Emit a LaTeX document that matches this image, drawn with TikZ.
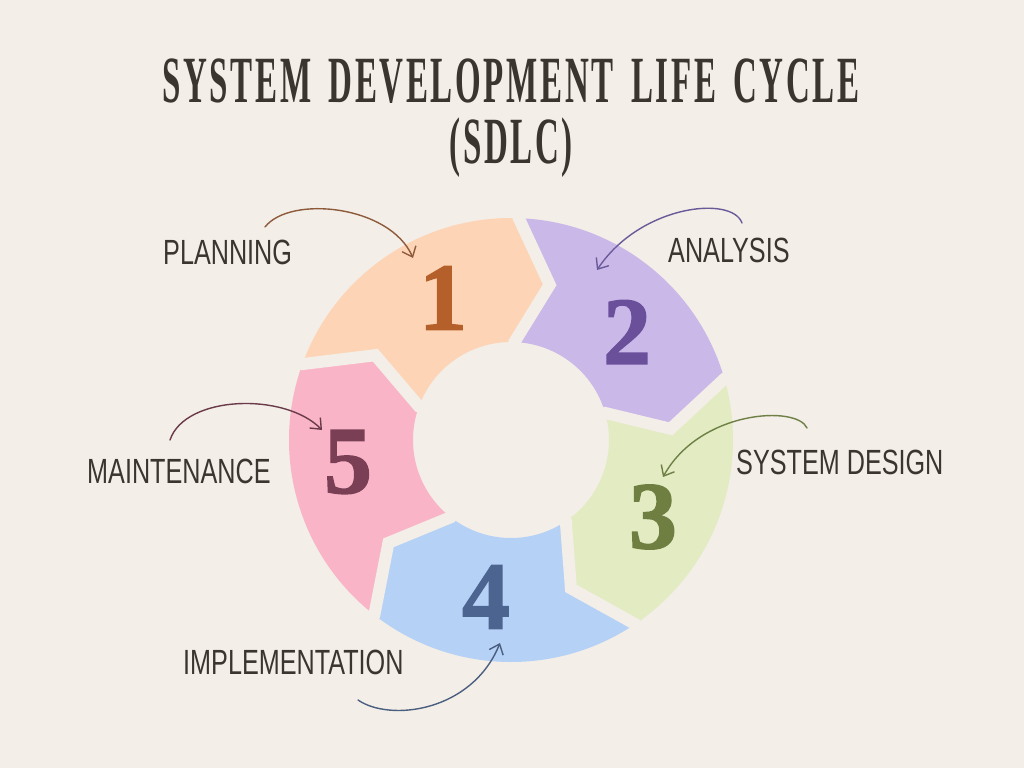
\documentclass[tikz,border=0pt]{standalone}
\usepackage{fontspec}
\setmainfont{Liberation Serif}
\newfontfamily\titlefont[FakeStretch=0.5, LetterSpace=4, WordSpace=1.6]{Liberation Serif}
\newfontfamily\labelfont[FakeStretch=0.72]{Liberation Sans}
\newfontfamily\numfont[FakeBold=1.5]{Liberation Serif}
\usetikzlibrary{arrows.meta}
\definecolor{bg}{HTML}{F3EEE7}
\definecolor{ink}{HTML}{3B3530}
\definecolor{c1}{HTML}{FDD4B5}
\definecolor{c2}{HTML}{CAB9E8}
\definecolor{c3}{HTML}{E2EBC1}
\definecolor{c4}{HTML}{B6D1F6}
\definecolor{c5}{HTML}{F9B5C7}
\definecolor{n1}{HTML}{B5602A}
\definecolor{n2}{HTML}{6A4F9B}
\definecolor{n3}{HTML}{6F7F42}
\definecolor{n4}{HTML}{4B6490}
\definecolor{n5}{HTML}{7A3F55}
\definecolor{a1}{HTML}{8E5A3C}
\definecolor{a2}{HTML}{6B5A9A}
\definecolor{a3}{HTML}{6E8045}
\definecolor{a4}{HTML}{4A5F80}
\definecolor{a5}{HTML}{6B3A4A}
\newcommand\ringseg[3]{%
  \fill[#1] (#2:222) arc[start angle=#2, end angle=#3, radius=222]
    -- (#3-12:160) -- (#3:98) arc[start angle=#3, end angle=#2, radius=98]
    -- (#2-12:160) -- cycle;}
\begin{document}
\begin{tikzpicture}[x=1pt,y=-1pt,
  lbl/.style={font=\labelfont\fontsize{35}{40}\selectfont, text=ink, inner sep=0pt, anchor=base west},
  num/.style={font=\numfont\bfseries\fontsize{96}{100}\selectfont, inner sep=0pt},
  ttl/.style={font=\titlefont\bfseries\fontsize{66}{70}\selectfont, text=ink, inner sep=0pt, anchor=base},
  curve/.style={line width=1.4pt, line cap=round, -{Straight Barb[length=9pt,width=15pt]}}]
\fill[bg] (0,0) rectangle (1024,768);
\useasboundingbox (0,0) rectangle (1024,768);
% title
\node[ttl] (t1) at (511,102) {SYSTEM DEVELOPMENT LIFE CYCLE};
\node[ttl] (t2) at (511,163) {(SDLC)};
% ring
\begin{scope}[shift={(511,440)}, yscale=-1]
  \ringseg{c1}{160}{88}
  \ringseg{c2}{88}{16}
  \ringseg{c3}{16}{-56}
  \ringseg{c4}{-56}{-128}
  \ringseg{c5}{-128}{-200}
  \foreach \b in {88,16,-56,-128,160}
    \draw[bg, line width=12pt] (\b:245) -- (\b:222) -- (\b-12:160) -- (\b:98) -- (\b:80);
\end{scope}
% numbers
\node[num, text=n1] (s1) at (443,298) {1};
\node[num, text=n2] (s2) at (627,332) {2};
\node[num, text=n3] (s3) at (653,517) {3};
\node[num, text=n4] (s4) at (486,597) {4};
\node[num, text=n5] (s5) at (348,462) {5};
% labels
\node[lbl] (l1) at (163,264) {PLANNING};
\node[lbl] (l2) at (668,262) {ANALYSIS};
\node[lbl] (l3) at (736,474) {SYSTEM DESIGN};
\node[lbl] (l5) at (87,483) {MAINTENANCE};
\node[lbl] (l4) at (183,674) {IMPLEMENTATION};
% arrow ends
\coordinate (p1) at (265,227); \coordinate (q1) at (413,258);
\coordinate (p2) at (742,223); \coordinate (q2) at (597,270);
\coordinate (p3) at (807,428); \coordinate (q3) at (663,477);
\coordinate (p5) at (170,440); \coordinate (q5) at (322,430);
\coordinate (p4) at (358,700); \coordinate (q4) at (500,643);
\draw[curve, a1] (p1) .. controls (290,195) and (390,205) .. (q1);
\draw[curve, a2] (p2) .. controls (732,195) and (640,205) .. (q2);
\draw[curve, a3] (p3) .. controls (797,405) and (700,410) .. (q3);
\draw[curve, a5] (p5) .. controls (185,395) and (285,392) .. (q5);
\draw[curve, a4] (p4) .. controls (390,722) and (472,712) .. (q4);
\end{tikzpicture}
\end{document}
